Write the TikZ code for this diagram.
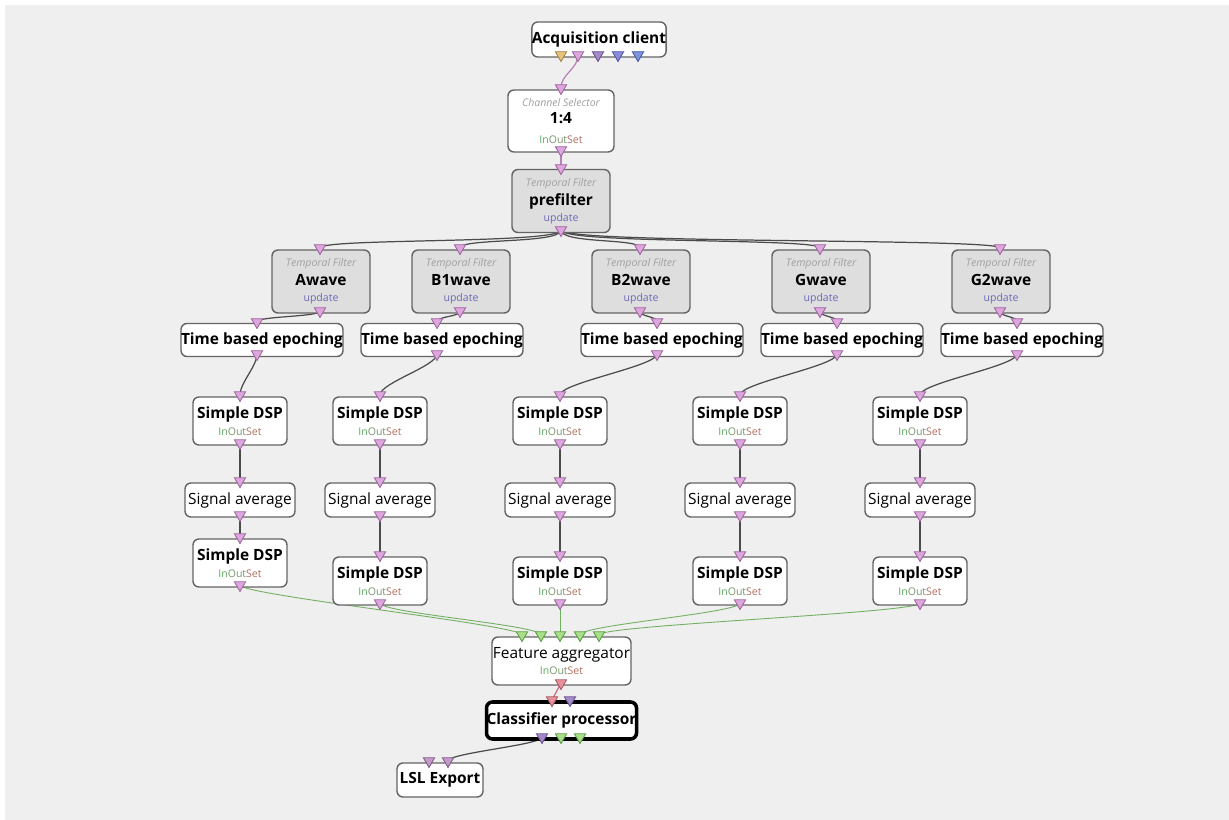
\documentclass[tikz,border=0pt]{standalone}
\usepackage{fontspec}
\setmainfont{Open Sans}
\usetikzlibrary{shapes.geometric}
\pgfdeclarelayer{back}
\pgfdeclarelayer{wires}
\pgfsetlayers{back,wires,main}
\newlength{\pxu}
\setlength{\pxu}{0.02cm}
\definecolor{canvas}{RGB}{239,239,239}
\definecolor{boxline}{RGB}{100,100,100}
\definecolor{filtfill}{RGB}{222,222,222}
\definecolor{wirec}{RGB}{75,75,75}
\definecolor{fwirec}{RGB}{112,176,96}
\definecolor{swirec}{RGB}{184,128,184}
\definecolor{rwirec}{RGB}{200,112,128}
\definecolor{kindc}{RGB}{160,160,160}
\definecolor{inc}{RGB}{95,170,95}
\definecolor{outc}{RGB}{120,150,110}
\definecolor{setc}{RGB}{176,112,96}
\definecolor{updc}{RGB}{106,106,184}
% socket colours: fill F, border D
\definecolor{sigF}{RGB}{221,166,221}  \definecolor{sigD}{RGB}{160,102,160}
\definecolor{featF}{RGB}{168,223,136} \definecolor{featD}{RGB}{94,158,72}
\definecolor{expF}{RGB}{232,195,126}  \definecolor{expD}{RGB}{160,136,74}
\definecolor{chlF}{RGB}{166,138,200}  \definecolor{chlD}{RGB}{110,84,150}
\definecolor{stimF}{RGB}{140,140,216} \definecolor{stimD}{RGB}{85,90,168}
\definecolor{blueF}{RGB}{127,148,220} \definecolor{blueD}{RGB}{70,90,170}
\definecolor{redF}{RGB}{232,144,156}  \definecolor{redD}{RGB}{170,90,100}
\definecolor{lslF}{RGB}{195,154,200}  \definecolor{lslD}{RGB}{130,90,140}
\tikzset{
  box/.style = {draw=boxline, fill=white, rounded corners=3.4pt, line width=0.8pt,
    inner sep=0, align=center, font=\fontsize{8.8}{10.5}\selectfont},
  filtbox/.style = {box, fill=filtfill, minimum width=98*\pxu, minimum height=63*\pxu},
  epochbox/.style = {box, minimum width=160*\pxu, minimum height=33*\pxu},
  dspbox/.style = {box, minimum width=94*\pxu, minimum height=48*\pxu},
  avgbox/.style = {box, minimum width=110*\pxu, minimum height=34*\pxu},
  socketbase/.style = {regular polygon, regular polygon sides=3, shape border rotate=180,
    inner sep=0, minimum size=7.4pt, line width=0.5pt},
  sock/.style = {socketbase, fill=#1F, draw=#1D},
  wire/.style = {draw=wirec, line width=0.7pt},
  fwire/.style = {draw=fwirec, line width=0.5pt},
}
\newcommand{\kind}[1]{{\fontsize{6}{7}\selectfont\itshape\color{kindc}#1}}
\newcommand{\ioset}{{\fontsize{6}{7}\selectfont\color{inc}In\color{outc}Out\color{setc}Set}}
\newcommand{\upd}{{\fontsize{6}{7}\selectfont\color{updc}update}}

\begin{document}
\begin{tikzpicture}[x=0.02cm, y=-0.02cm]
      \begin{pgfonlayer}{back}
        \fill [white] (0, 0) rectangle (1229, 820);
        \fill [canvas] (5, 5) rectangle (1229, 820);
      \end{pgfonlayer}

      % acquisition and common filtering
      \node [box, minimum width=134*\pxu, minimum height=35*\pxu] (acq) at (599, 39.5)
        {\bfseries Acquisition client};
      \foreach \x/\t [count=\i] in {561/exp, 578/sig, 598/chl, 618/stim, 638/blue} {
        \node [sock=\t] (acq-out\i) at (\x, 55) {};
      }
      \node [box, minimum width=106*\pxu, minimum height=62*\pxu] (sel) at (561, 121)
        {\kind{Channel Selector}\\[-1pt]{\bfseries 1:4}\\[1pt]\ioset};
      \node [sock=sig] (sel-in) at (561, 88) {};
      \node [sock=sig] (sel-out) at (561, 150) {};
      \node [filtbox] (pre) at (561, 201)
        {\kind{Temporal Filter}\\[0.5pt]{\bfseries prefilter}\\[-1.5pt]\upd};
      \node [sock=sig] (pre-in) at (561, 168) {};
      \node [sock=sig] (pre-out) at (561, 230) {};

      % one branch per band
      \foreach \c/\x/\t/\d/\yb/\nm in {a/320/262/240/563/Awave, b/460/442/380/581/B1wave,
          c/640/662/560/581/B2wave, d/820/842/740/581/Gwave, e/1000/1022/920/581/G2wave} {
        \node [filtbox] (tf-\c) at (\x + 1, 281.5)
          {\kind{Temporal Filter}\\[0.5pt]{\bfseries \nm}\\[-1.5pt]\upd};
        \node [epochbox] (tbe-\c) at (\t, 340) {\bfseries Time based epoching};
        \node [dspbox] (dsp-\c) at (\d, 421) {\bfseries Simple DSP\\[-1pt]\ioset};
        \node [avgbox] (avg-\c) at (\d, 500) {Signal average};
        \node [dspbox] (fin-\c) at (\d, \yb) {\bfseries Simple DSP\\[-1pt]\ioset};
        \node [sock=sig] (tf-\c-in) at (\x, 248) {};
        \node [sock=sig] (tf-\c-out) at (\x, 311) {};
        \node [sock=sig] (tbe-\c-in) at (\t - 5, 322) {};
        \node [sock=sig] (tbe-\c-out) at (\t - 5, 354) {};
        \node [sock=sig] (dsp-\c-in) at (\d, 395) {};
        \node [sock=sig] (dsp-\c-out) at (\d, 443) {};
        \node [sock=sig] (avg-\c-in) at (\d, 481) {};
        \node [sock=sig] (avg-\c-out) at (\d, 515) {};
        \node [sock=sig] (fin-\c-in) at (\d, \yb - 26) {};
        \node [sock=sig] (fin-\c-out) at (\d, \yb + 22) {};
      }

      % features and classification
      \node [box, minimum width=139*\pxu, minimum height=48*\pxu] (agg) at (561.5, 661)
        {Feature aggregator\\[-1pt]\ioset};
      \foreach \x [count=\i] in {522, 541, 560, 580, 599} {
        \node [sock=feat] (agg-in\i) at (\x, 635) {};
      }
      \node [sock=red] (agg-out) at (561, 683) {};
      \node [box, line width=2pt, draw=black, minimum width=150*\pxu, minimum height=37*\pxu]
        (cls) at (561.5, 720.5) {\bfseries Classifier processor};
      \node [sock=red] (cls-in1) at (552, 700) {};
      \node [sock=chl] (cls-in2) at (570, 700) {};
      \foreach \x/\t [count=\i] in {542/chl, 561/feat, 580/feat} {
        \node [sock=\t] (cls-out\i) at (\x, 737) {};
      }
      \node [box, minimum width=86*\pxu, minimum height=34*\pxu] (lsl) at (440, 780)
        {\bfseries LSL Export};
      \node [sock=lsl] (lsl-in1) at (429, 761) {};
      \node [sock=lsl] (lsl-in2) at (448, 761) {};

      \begin{pgfonlayer}{wires}
        \draw [wire, draw=swirec] (acq-out2.center) .. controls +(0, 14) and +(0, -14) .. (sel-in.center);
        \draw [wire, draw=swirec] (sel-out.center) -- (pre-in.center);
        \foreach \c [count=\i] in {a, b, c, d, e} {
          \draw [wire] (pre-out.center) .. controls +(0, 14) and +(0, -10) .. (tf-\c-in.center);
          \draw [wire] (tf-\c-out.center) .. controls +(0, 6) and +(0, -6) .. (tbe-\c-in.center);
          \draw [wire] (tbe-\c-out.center) .. controls +(0, 12) and +(0, -12) .. (dsp-\c-in.center);
          \draw [wire] (dsp-\c-out.center) -- (avg-\c-in.center);
          \draw [wire] (avg-\c-out.center) -- (fin-\c-in.center);
          \draw [fwire] (fin-\c-out.center) .. controls +(0, 10) and +(0, -10) .. (agg-in\i.center);
        }
        \draw [wire, draw=rwirec] (agg-out.center) -- (cls-in1.center);
        \draw [wire] (cls-out1.center) .. controls +(0, 8) and +(0, -8) .. (lsl-in2.center);
      \end{pgfonlayer}
    \end{tikzpicture}
\end{document}
